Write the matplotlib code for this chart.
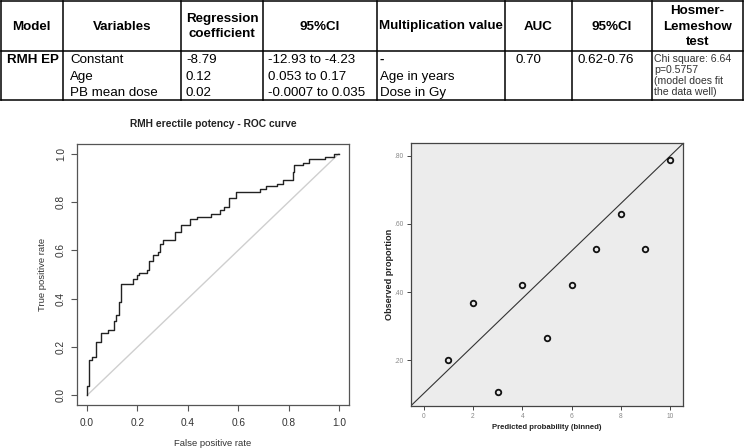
import numpy as np
import matplotlib.pyplot as plt

plt.rcParams['font.family'] = ['Liberation Sans', 'DejaVu Sans']

# table contents
headers = ["Model", "Variables", "Regression\ncoefficient", "95%CI",
           "Multiplication value", "AUC", "95%CI", "Hosmer-\nLemeshow\ntest"]
model_name = "RMH EP"
variables = ["Constant", "Age", "PB mean dose"]
coefs = ["-8.79", "0.12", "0.02"]
coef_ci = ["-12.93 to -4.23", "0.053 to 0.17", "-0.0007 to 0.035"]
mult_values = ["-", "Age in years", "Dose in Gy"]
auc = "0.70"
auc_ci = "0.62-0.76"
hl_lines = ["Chi square: 6.64", "p=0.5757", "(model does fit", "the data well)"]

# ROC curve (step corners): fpr where the curve rises, tpr reached there
roc_fpr = [0.0, 0.007, 0.020, 0.034, 0.055, 0.083, 0.106, 0.116, 0.127,
           0.135, 0.182, 0.198, 0.208, 0.237, 0.247, 0.261, 0.282, 0.289,
           0.301, 0.351, 0.373, 0.409, 0.435, 0.492, 0.528, 0.542, 0.565,
           0.591, 0.687, 0.710, 0.753, 0.776, 0.817, 0.823, 0.859, 0.881,
           0.943, 0.980, 1.0]
roc_tpr = [0.039, 0.146, 0.160, 0.221, 0.260, 0.271, 0.308, 0.333, 0.385,
           0.459, 0.482, 0.496, 0.507, 0.519, 0.554, 0.581, 0.593, 0.627,
           0.641, 0.675, 0.704, 0.731, 0.740, 0.751, 0.765, 0.779, 0.816,
           0.840, 0.854, 0.865, 0.876, 0.892, 0.924, 0.953, 0.963, 0.978,
           0.986, 1.0, 1.0]

# calibration plot
bins = [1, 2, 3, 4, 5, 6, 7, 8, 9, 10]
observed = [0.200, 0.369, 0.107, 0.420, 0.264, 0.420, 0.526, 0.630, 0.526, 0.788]

fig = plt.figure(figsize=(7.44, 4.48), dpi=100)

# ---- table drawn in pixel coordinates ----
tab = fig.add_axes([0, 0, 1, 1])
tab.set_xlim(0, 744)
tab.set_ylim(448, 0)
tab.axis('off')

col_edges = [0.7, 63, 181, 263, 377, 505, 572, 652, 743]
row_edges = [1, 51, 100]
for y in row_edges:
    tab.plot([col_edges[0], col_edges[-1]], [y, y], color='black', lw=1.1)
for x in col_edges:
    tab.plot([x, x], [row_edges[0], row_edges[-1]], color='black', lw=1.1)

fs = 9.6
for i, h in enumerate(headers):
    xc = (col_edges[i] + col_edges[i + 1]) / 2
    tab.text(xc, 26.5, h, ha='center', va='center', fontsize=fs,
             fontweight='bold', linespacing=1.35)

text_x = [7, 70, 186, 268, 380, 515, 578, 654]
baselines = [63, 80, 96]
tab.text(text_x[0], baselines[0], model_name, fontsize=fs,
         fontweight='bold', va='baseline')
tab.text(text_x[5], baselines[0], auc, fontsize=fs, va='baseline')
tab.text(text_x[6], baselines[0], auc_ci, fontsize=fs, va='baseline')
for j in range(3):
    tab.text(text_x[1], baselines[j], variables[j], fontsize=fs, va='baseline')
    tab.text(text_x[2], baselines[j], coefs[j], fontsize=fs, va='baseline')
    tab.text(text_x[3], baselines[j], coef_ci[j], fontsize=fs, va='baseline')
    tab.text(text_x[4], baselines[j], mult_values[j], fontsize=fs,
             va='baseline', fontweight='bold' if mult_values[j] == "-" else 'normal')
for j, line in enumerate(hl_lines):
    tab.text(text_x[7], 62 + 11 * j, line, fontsize=7.6, va='baseline',
             color='#333333')

# ---- ROC curve ----
ax1 = fig.add_axes([77 / 744, 1 - 405 / 448, 272 / 744, 261 / 448])
ax1.plot([0, 1], [0, 1], color='#cfcfcf', lw=1)
ax1.plot([0] + roc_fpr, [0] + roc_tpr, drawstyle='steps-post',
         color='#222222', lw=1)
ax1.set_xlim(-0.04, 1.04)
ax1.set_ylim(-0.04, 1.04)
ax1.set_xticks(np.arange(0, 1.01, 0.2))
ax1.set_yticks(np.arange(0, 1.01, 0.2))
ax1.set_xticklabels(["0.0", "0.2", "0.4", "0.6", "0.8", "1.0"])
ax1.set_yticklabels(["0.0", "0.2", "0.4", "0.6", "0.8", "1.0"],
                    rotation=90, va='center')
ax1.tick_params(direction='out', length=4, width=0.8, color='#555555',
                labelsize=7.3, labelcolor='#333333')
ax1.tick_params(axis='x', pad=5)
ax1.tick_params(axis='y', pad=4)
for s in ax1.spines.values():
    s.set_color('#555555')
    s.set_linewidth(0.9)
ax1.set_title("RMH erectile potency - ROC curve", fontsize=7.4,
              fontweight='bold', y=1.065, pad=0, color='#222222')
ax1.set_xlabel("False positive rate", fontsize=6.8, color='#333333')
ax1.set_ylabel("True positive rate", fontsize=6.8, color='#333333')
ax1.xaxis.set_label_coords(0.5, -0.131)
ax1.yaxis.set_label_coords(-0.111, 0.5)

# ---- calibration plot ----
ax2 = fig.add_axes([410.7 / 744, 1 - 406 / 448, 272.6 / 744, 262.7 / 448])
ax2.set_facecolor('#ececec')
ax2.plot([0, 1], [0, 1], transform=ax2.transAxes, color='#333333', lw=0.8)
ax2.plot(bins, observed, 'o', ms=4, mfc='none', mec='#111111', mew=1.3)
ax2.set_xlim(-0.53, 10.54)
ax2.set_ylim(0.065, 0.837)
ax2.set_xticks([0, 2, 4, 6, 8, 10])
ax2.set_yticks([0.2, 0.4, 0.6, 0.8])
ax2.set_yticklabels([".20", ".40", ".60", ".80"])
ax2.tick_params(direction='out', length=3, width=0.7, color='#444444',
                labelsize=4.8, labelcolor='#888888', pad=2)
for s in ax2.spines.values():
    s.set_color('#444444')
    s.set_linewidth(0.9)
ax2.set_xlabel("Predicted probability (binned)", fontsize=5.6,
               fontweight='bold', color='#222222')
ax2.set_ylabel("Observed proportion", fontsize=6.6, fontweight='bold',
               color='#222222')
ax2.xaxis.set_label_coords(0.5, -0.07)
ax2.yaxis.set_label_coords(-0.061, 0.5)

fig.savefig("out.png", dpi=100)
